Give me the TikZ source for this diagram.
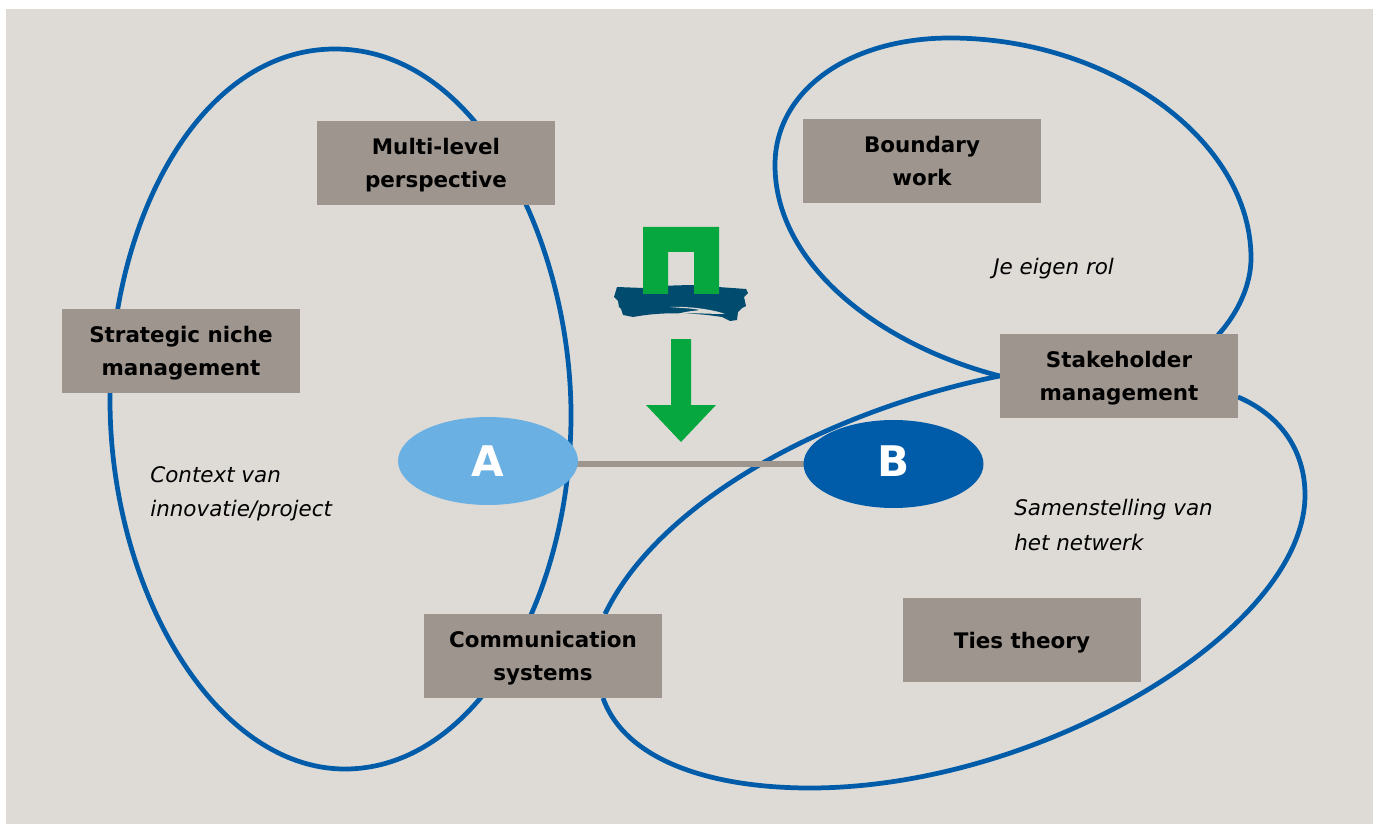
\documentclass[tikz,border=0pt]{standalone}
\usepackage{fontspec}
\setmainfont{DejaVu Sans}
\usetikzlibrary{shapes, positioning, backgrounds}
\definecolor{panelgrey}{HTML}{DEDBD6}
\definecolor{boxgrey}{HTML}{9E958E}
\definecolor{loopblue}{HTML}{005CA9}
\definecolor{lightblue}{HTML}{6AB0E2}
\definecolor{logogreen}{HTML}{06A73E}
\definecolor{logonavy}{HTML}{004B6E}
\begin{document}
\begin{tikzpicture}[x=0.02cm, y=-0.02cm,
    theorybox/.style={fill=boxgrey, minimum width=4.76cm, minimum height=1.68cm, inner sep=0pt, text depth=0pt, align=center, font=\fontsize{12.2}{18.8}\selectfont\bfseries},
    remark/.style={anchor=west, inner sep=0pt, align=left, font=\fontsize{12.2}{19.4}\selectfont\itshape},
    actor/.style={ellipse, minimum width=3.6cm, minimum height=1.76cm, inner sep=0pt, text=white, font=\fontsize{24}{24}\selectfont\bfseries},
    loopline/.style={loopblue, line width=2.7pt}]
        \useasboundingbox (0,0) rectangle (1373,824);
        % boxes
        \node[theorybox] (mlp) at (436,163) {Multi-level\\perspective};
        \node[theorybox] (sniche) at (181,351) {Strategic niche\\management};
        \node[theorybox] (comm) at (543,656) {Communication\\systems};
        \node[theorybox] (bwork) at (922,161) {Boundary\\work};
        \node[theorybox] (stake) at (1119,376) {Stakeholder\\management};
        \node[theorybox] (ties) at (1022,640) {Ties theory};
        % actors
        \node[actor, fill=lightblue] (A) at (488,461) {A};
        \node[actor, fill=loopblue] (B) at (893.5,464) {\raisebox{3.4pt}{B}};
        % remarks
        \node[remark] (context) at (150,494) {Context van\\innovatie/project};
        \node[remark] (rol) at (993,269) {Je eigen rol};
        \node[remark] (netwerk) at (1014,525) {Samenstelling van\\het netwerk};
        % loop ends on the box edges
        \coordinate (topend) at (1218,335);
        \coordinate (commup) at (605,614);
        \coordinate (commdown) at (603,698);
        \coordinate (stakeend) at (1238,397);
        \begin{pgfonlayer}{background}
            \fill[panelgrey] (6,9) rectangle (1373,824);
            \draw[loopline] (335,49) .. controls (480,49) and (571,245) .. (571,415) .. controls (571,600) and (475,769) .. (345,769) .. controls (215,769) and (110,590) .. (110,400) .. controls (110,220) and (200,49) .. (335,49) -- cycle;
            \draw[loopline] (stake.west) .. controls (880,345) and (775,265) .. (775,165) .. controls (775,90) and (850,38) .. (950,38) .. controls (1110,38) and (1251,140) .. (1251,258) .. controls (1251,285) and (1238,313) .. (topend);
            \draw[loopline] (stake.west) .. controls (830,410) and (660,500) .. (commup);
            \draw[loopline] (commdown) .. controls (625,760) and (710,788) .. (810,788) .. controls (1040,788) and (1305,630) .. (1305,495) .. controls (1305,450) and (1280,415) .. (stakeend);
            \draw[boxgrey, line width=2.9pt] (A.center |- B.center) -- (B.center);
        \end{pgfonlayer}
        % logo
        \fill[logonavy] (617,287) -- (643,288) .. controls (665,285) and (700,284) .. (718,287) -- (746,289) -- (748,293) -- (744,297) -- (746,306) -- (742,308) -- (738,312) -- (737,320) -- (730,321) -- (722,317) .. controls (690,312) and (660,312) .. (633,317) -- (623,315) -- (621,309) -- (619,307) -- (618,301) -- (614,297) -- cycle;
        \fill[panelgrey] (670,307) .. controls (690,306) and (715,310) .. (725,314) .. controls (705,314) and (690,312) .. (675,315) .. controls (685,311) and (695,311) .. (700,310) .. controls (690,308) and (680,308) .. (670,307) -- cycle;
        \fill[logogreen] (643,294) -- (643,227) -- (719,227) -- (719,294) -- (694,294) -- (694,252) -- (668,252) -- (668,294) -- cycle;
        % arrow
        \fill[logogreen] (671,339) -- (691,339) -- (691,405) -- (716,405) -- (681,442) -- (646,405) -- (671,405) -- cycle;
    \end{tikzpicture}
\end{document}
